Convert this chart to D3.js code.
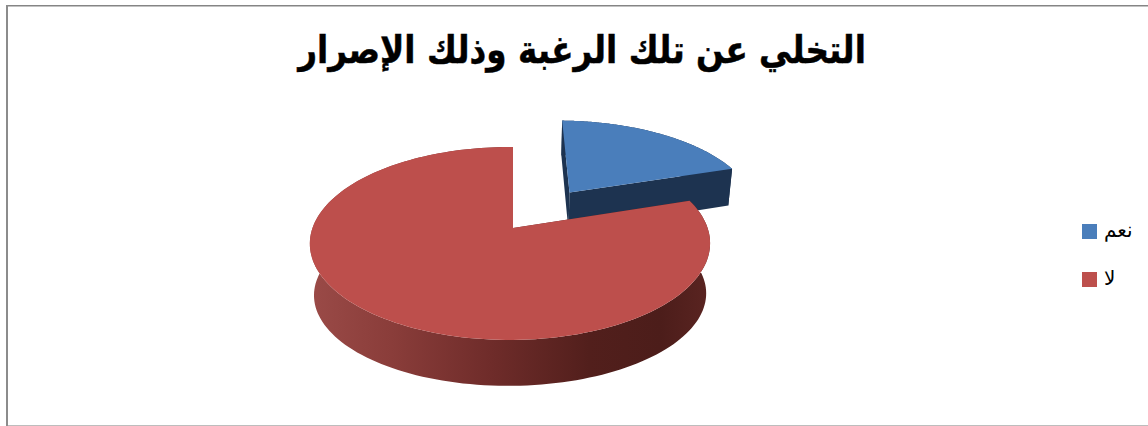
<!DOCTYPE html>
<html lang="ar">
<head>
<meta charset="utf-8">
<script src="https://cdn.jsdelivr.net/npm/d3@7"></script>
<style>
html, body { margin: 0; padding: 0; background: #fff; }
svg { display: block; }
</style>
</head>
<body>
<svg id="chart" width="1148" height="426"></svg>
<script>
// Chart content
const chartTitle = "التخلي عن تلك الرغبة وذلك الإصرار";
const categories = ["نعم", "لا"];
const values = [20, 80];
const topColors = ["#4a7ebb", "#bd4f4c"];
const sideColors = ["#1d3350", "#6b2a28"];

const svg = d3.select("#chart");
const defs = svg.append("defs");

// Horizontal shading of the red slice's rim
const rim = defs.append("linearGradient")
  .attr("id", "rimShade")
  .attr("gradientUnits", "userSpaceOnUse")
  .attr("x1", 312).attr("x2", 708).attr("y1", 0).attr("y2", 0);
[[0, "#9a4a47"], [0.2, "#8a3d3a"], [0.45, "#6f2c2a"], [0.7, "#521f1c"], [0.88, "#4c1d1a"], [1, "#5a2421"]]
  .forEach(([o, c]) => rim.append("stop").attr("offset", o).attr("stop-color", c));

// Frame: heavy top and left rules, faint bottom rule
const frame = svg.append("g").attr("class", "frame");
frame.append("rect").attr("x", 6).attr("y", 5).attr("width", 1142).attr("height", 1.5).attr("fill", "#858585");
frame.append("rect").attr("x", 6).attr("y", 5).attr("width", 2).attr("height", 421).attr("fill", "#8c8c8c");
frame.append("rect").attr("x", 8).attr("y", 425).attr("width", 1140).attr("height", 1).attr("fill", "#bdbdbd");

// Tilted-disc projection: v runs towards the back of the pie, z drops to the base
const perspective = 0.16, sidePerspective = 0.015, baseShrink = 0.02;
const drops = [41, 53], baseFlatten = [0, 0.12];
const px = d3.scaleLinear().domain([-1, 1]).range([513 - 197.5, 513 + 197.5]);
const py = d3.scaleLinear().domain([-1, 1]).range([228 + 94, 228 - 94]);
const project = (u, v, z, i) => {
  const w = 1 + perspective * v + sidePerspective * u + baseShrink * z;
  return [px(u / w), py(v * (1 - baseFlatten[i] * z) / w) + z * drops[i] / w];
};

const pie = d3.pie().sort(null).value(d => d);
const slices = pie(values);
const outline = d3.line();
const explode = [0.5, 0];
const nudge = [0.012, 0];

function offsetOf(s, i) {
  const mid = (s.startAngle + s.endAngle) / 2;
  return [explode[i] * Math.sin(mid) + nudge[i], explode[i] * Math.cos(mid)];
}
function rimPoints(s, i, z) {
  const [ox, oy] = offsetOf(s, i);
  const steps = 160;
  return d3.range(steps + 1).map(k => {
    const a = s.startAngle + (s.endAngle - s.startAngle) * k / steps;
    return project(ox + Math.sin(a), oy + Math.cos(a), z, i);
  });
}
function apexPoint(s, i, z) {
  const [ox, oy] = offsetOf(s, i);
  return project(ox, oy, z, i);
}

// Detached slice goes first so the large one can overlap it
[0, 1].forEach(i => {
  const s = slices[i];
  const g = svg.append("g").attr("class", "slice");
  const top = rimPoints(s, i, 0), base = rimPoints(s, i, 1);
  const aTop = apexPoint(s, i, 0), aBase = apexPoint(s, i, 1);
  const sideFill = i === 1 ? "url(#rimShade)" : sideColors[i];

  // Outer rim, as one path of small quads so the silhouette stays filled
  const rimPath = d3.range(top.length - 1)
    .map(k => outline([top[k], top[k + 1], base[k + 1], base[k]]) + "Z")
    .join("");
  g.append("path").attr("d", rimPath).attr("fill", sideFill);

  // Both radial cut faces
  [[top[0], base[0]], [top[top.length - 1], base[base.length - 1]]].forEach(([t, b]) => {
    g.append("path")
      .attr("d", outline([aTop, t, b, aBase]) + "Z")
      .attr("fill", sideFill);
  });
  // Top face
  g.append("path")
    .attr("d", outline([aTop].concat(top)) + "Z")
    .attr("fill", topColors[i]);
});

// Title
svg.append("text")
  .attr("transform", "translate(582,63) scale(0.86,1)")
  .attr("text-anchor", "middle")
  .attr("direction", "rtl")
  .attr("font-family", "'DejaVu Sans', sans-serif")
  .attr("font-weight", "bold")
  .attr("font-size", 38)
  .attr("stroke", "#000")
  .attr("stroke-width", 0.5)
  .attr("fill", "#000")
  .text(chartTitle);

// Legend
const legendY = d3.scalePoint().domain(categories).range([231.5, 279.5]);
const legend = svg.append("g").attr("class", "legend");
categories.forEach((c, i) => {
  legend.append("rect")
    .attr("x", 1082).attr("y", legendY(c) - 7.5)
    .attr("width", 15).attr("height", 15)
    .attr("fill", topColors[i]);
  legend.append("text")
    .attr("x", 1104).attr("y", legendY(c) + 5.5)
    .attr("direction", "ltr")
    .attr("font-family", "'DejaVu Sans', sans-serif")
    .attr("font-size", 20)
    .attr("fill", "#000")
    .text(c);
});
</script>
</body>
</html>
